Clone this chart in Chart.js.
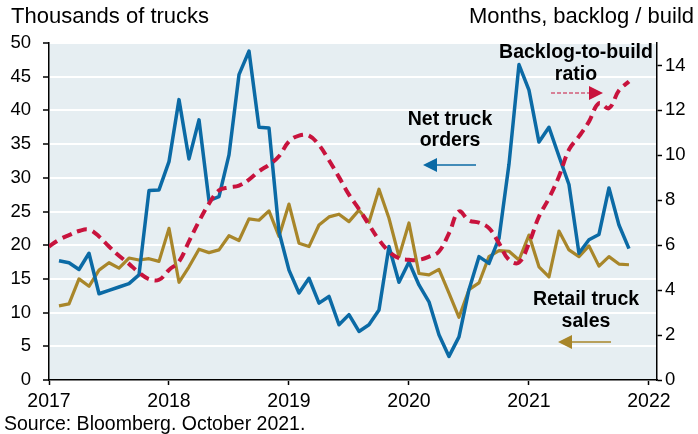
<!DOCTYPE html>
<html>
<head>
<meta charset="utf-8">
<script src="https://cdn.jsdelivr.net/npm/chart.js@4.4.0/dist/chart.umd.min.js"></script>
<style>
  html, body { margin: 0; padding: 0; background: #fff; }
  #wrap { width: 698px; height: 434px; }
</style>
</head>
<body>
<div id="wrap"><canvas id="truckChart" width="698" height="434"></canvas></div>
<script>
// Net truck orders and retail truck sales, thousands, Jan 2017 - Oct 2021
const netOrders = [
  17.7, 17.4, 16.4, 18.8, 12.8, 13.3, 13.8, 14.3, 15.6, 28.1, 28.2, 32.4,
  41.6, 32.8, 38.6, 26.6, 27.2, 33.4, 45.3, 48.8, 37.5, 37.4, 22.0, 16.3,
  12.9, 15.1, 11.4, 12.4, 8.2, 9.7, 7.2, 8.2, 10.4, 19.8, 14.5, 17.5,
  14.1, 11.6, 6.7, 3.5, 6.4, 13.4, 18.3, 17.3, 21.0, 32.0, 46.8, 43.0,
  35.3, 37.5, 33.2, 29.0, 18.8, 20.8, 21.6, 28.5, 23.0, 19.5
];
const retailSales = [
  11.0, 11.3, 15.0, 13.9, 16.3, 17.4, 16.6, 18.1, 17.8, 18.0, 17.6, 22.5,
  14.5, 16.8, 19.4, 18.9, 19.3, 21.4, 20.7, 23.9, 23.7, 25.1, 21.3, 26.1,
  20.3, 19.8, 23.0, 24.2, 24.6, 23.5, 25.2, 23.4, 28.3, 24.0, 18.3, 23.3,
  15.8, 15.6, 16.4, 12.9, 9.3, 13.4, 14.4, 18.3, 19.2, 19.1, 17.8, 21.5,
  16.8, 15.3, 22.1, 19.3, 18.3, 19.9, 16.9, 18.3, 17.2, 17.1
];
// Backlog-to-build ratio, months, Dec 2016 - Oct 2021
const backlogRatio = [
  5.94,
  6.24, 6.45, 6.63, 6.69, 6.39, 5.94, 5.53, 5.17, 4.78, 4.49, 4.46, 4.9,
  5.27, 6.17, 7.06, 7.85, 8.44, 8.57, 8.65, 8.92, 9.29, 9.58, 9.96, 10.62,
  10.88, 10.88, 10.46, 9.78, 9.03, 8.25, 7.61, 6.91, 6.24, 5.72, 5.42, 5.35,
  5.35, 5.49, 5.72, 6.53, 7.5, 7.1, 7.0, 6.76, 6.09, 5.35, 5.23, 6.09,
  7.28, 8.09, 9.06, 10.25, 10.84, 11.5, 12.32, 12.1, 12.89, 13.29
];
const yearTicks = [2017, 2018, 2019, 2020, 2021, 2022];
const leftTicks = [0, 5, 10, 15, 20, 25, 30, 35, 40, 45, 50];
const rightTicks = [0, 2, 4, 6, 8, 10, 12, 14];

const BLUE = '#0b6aa5';
const GOLD = '#a8862a';
const RED = '#c8133d';
const FONT = '"Liberation Sans", Arial, sans-serif';

// month-end positions as decimal years
function monthEnds(year, month, n) {
  const out = [];
  for (let k = 0; k < n; k++) out.push(year + (month + k) / 12);
  return out;
}
const salesX = monthEnds(2017, 1, netOrders.length);
const ratioX = monthEnds(2016, 12, backlogRatio.length);

const toPoints = (xs, ys) => ys.map((y, i) => ({ x: xs[i], y: y }));

function arrow(ctx, x1, x2, y, color, dash) {
  const dir = x2 > x1 ? 1 : -1;
  const head = 14;
  ctx.save();
  ctx.strokeStyle = color;
  ctx.fillStyle = color;
  ctx.lineWidth = dash ? 1.2 : 1.5;
  ctx.setLineDash(dash || []);
  ctx.beginPath();
  ctx.moveTo(x1, y);
  ctx.lineTo(x2 - dir * head, y);
  ctx.stroke();
  ctx.setLineDash([]);
  ctx.beginPath();
  ctx.moveTo(x2, y);
  ctx.lineTo(x2 - dir * head, y - 7);
  ctx.lineTo(x2 - dir * head, y + 7);
  ctx.closePath();
  ctx.fill();
  ctx.restore();
}

const overlay = {
  id: 'overlay',
  beforeDraw(chart) {
    const { ctx, chartArea: a } = chart;
    ctx.save();
    ctx.fillStyle = '#e6eef2';
    ctx.fillRect(a.left, a.top, a.right - a.left, a.bottom - a.top);
    ctx.restore();
  },
  afterDraw(chart) {
    const ctx = chart.ctx;
    ctx.save();
    ctx.fillStyle = '#000';
    ctx.textBaseline = 'alphabetic';
    ctx.font = '22px ' + FONT;
    ctx.textAlign = 'left';
    ctx.fillText('Thousands of trucks', 11, 23);
    ctx.textAlign = 'right';
    ctx.fillText('Months, backlog / build', 694, 23);
    ctx.font = '19.5px ' + FONT;
    ctx.textAlign = 'left';
    ctx.fillText('Source: Bloomberg. October 2021.', 4, 430);

    ctx.font = 'bold 19.5px ' + FONT;
    ctx.textAlign = 'center';
    ctx.fillText('Backlog-to-build', 576, 58);
    ctx.fillText('ratio', 576, 80);
    ctx.fillText('Net truck', 450, 125);
    ctx.fillText('orders', 450, 146);
    ctx.fillText('Retail truck', 586, 305);
    ctx.fillText('sales', 586, 327);
    ctx.restore();

    arrow(ctx, 551, 603, 93, RED, [4, 2]);
    arrow(ctx, 476, 423, 165, BLUE);
    arrow(ctx, 611, 558, 342, GOLD);
  }
};

Chart.defaults.font.family = FONT;
Chart.defaults.color = '#000';

new Chart(document.getElementById('truckChart'), {
  type: 'line',
  data: {
    datasets: [
      {
        label: 'Backlog-to-build ratio',
        data: toPoints(ratioX, backlogRatio),
        yAxisID: 'y2',
        borderColor: RED,
        borderWidth: 4,
        borderDash: [10, 6],
        tension: 0.4,
        order: 0
      },
      {
        label: 'Net truck orders',
        data: toPoints(salesX, netOrders),
        yAxisID: 'y',
        borderColor: BLUE,
        borderWidth: 3.5,
        tension: 0,
        order: 1
      },
      {
        label: 'Retail truck sales',
        data: toPoints(salesX, retailSales),
        yAxisID: 'y',
        borderColor: GOLD,
        borderWidth: 3.2,
        tension: 0,
        order: 2
      }
    ]
  },
  options: {
    responsive: false,
    animation: false,
    devicePixelRatio: 1,
    layout: { padding: { top: 43, left: 0, right: 0, bottom: 0 } },
    elements: { point: { radius: 0 }, line: { borderJoinStyle: 'round' } },
    plugins: { legend: { display: false }, tooltip: { enabled: false } },
    scales: {
      x: {
        type: 'linear',
        min: 2017,
        max: 2022.067,
        afterBuildTicks: s => { s.ticks = yearTicks.map(v => ({ value: v })); },
        afterFit: s => { s.height = 54; },
        ticks: {
          callback: v => String(v),
          font: { size: 19.5 },
          padding: 5,
          maxRotation: 0,
          autoSkip: false
        },
        grid: { drawOnChartArea: false, tickLength: 5, tickColor: '#000', tickWidth: 1.5 },
        border: { color: '#000', width: 1.5 }
      },
      y: {
        position: 'left',
        min: 0,
        max: 50,
        afterBuildTicks: s => { s.ticks = leftTicks.map(v => ({ value: v })); },
        afterFit: s => { s.width = 49; },
        ticks: { font: { size: 18.5 }, padding: 12 },
        grid: { color: '#ffffff', lineWidth: 2, tickLength: 6, tickColor: '#000', tickWidth: 1.5 },
        border: { color: '#000', width: 1.5 }
      },
      y2: {
        position: 'right',
        min: 0,
        max: 15,
        afterBuildTicks: s => { s.ticks = rightTicks.map(v => ({ value: v })); },
        afterFit: s => { s.width = 41; },
        ticks: { font: { size: 18.5 }, padding: 3 },
        grid: { drawOnChartArea: false, tickLength: 5, tickColor: '#000', tickWidth: 1.5 },
        border: { color: '#000', width: 1.5 }
      }
    }
  },
  plugins: [overlay]
});
</script>
</body>
</html>
